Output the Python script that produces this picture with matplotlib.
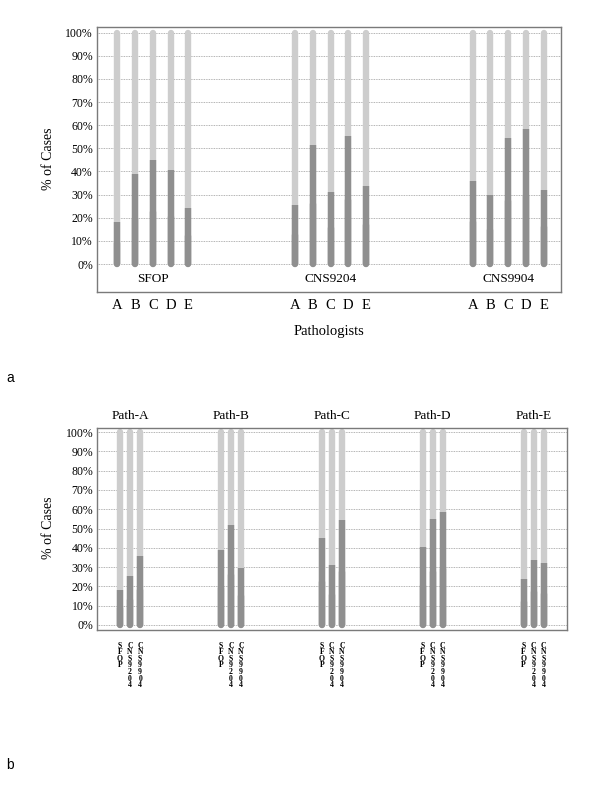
import matplotlib
matplotlib.use('Agg')
import matplotlib.pyplot as plt
import matplotlib.transforms as mtransforms

# values (% of cases, dark lower segment)
pathologists = ['A', 'B', 'C', 'D', 'E']
protocols = ['SFOP', 'CNS9204', 'CNS9904']
sfop = [18.0, 38.8, 45.0, 40.6, 24.1]
cns9204 = [25.5, 51.6, 31.3, 55.2, 33.9]
cns9904 = [35.9, 29.8, 54.5, 58.5, 32.0]
yticks = list(range(0, 101, 10))

DARK = '#8f8f8f'
LIGHT = '#cdcdcd'
SERIF = 'Liberation Serif'
BAR_LW = 4.6


def draw_bar(ax, x, v):
    # light full-height bar, then dark bottom part with flat top
    ax.plot([x, x], [0, 100], color=LIGHT, lw=BAR_LW, solid_capstyle='round', zorder=2)
    ax.plot([x, x], [0, v / 2], color=DARK, lw=BAR_LW, solid_capstyle='round', zorder=3)
    ax.plot([x, x], [0, v], color=DARK, lw=BAR_LW, solid_capstyle='butt', zorder=3)


def style_axes(ax, ylim):
    ax.set_ylim(*ylim)
    ax.set_yticks(yticks)
    ax.set_yticklabels(['%d%%' % t for t in yticks], fontfamily=SERIF, fontsize=8.5)
    ax.tick_params(axis='y', length=0, pad=3)
    for t in yticks:
        ax.axhline(t, color='#9a9a9a', lw=0.6, ls=(0, (1, 1)), zorder=1)
    for s in ax.spines.values():
        s.set_color('#7a7a7a')
        s.set_linewidth(1.0)


fig = plt.figure(figsize=(6.0, 7.95), dpi=100)

# ---- panel a: grouped by protocol ----
ax1 = fig.add_axes([97 / 600, 1 - 292 / 795, (561 - 97) / 600, (292 - 26.7) / 795])
series = [sfop, cns9204, cns9904]
xpos = []
xlabels = []
for g, vals in enumerate(series):
    for i, v in enumerate(vals):
        x = g * 10 + i
        draw_bar(ax1, x, v)
        xpos.append(x)
        xlabels.append(pathologists[i])
    ax1.text(g * 10 + 2, -6.6, protocols[g], ha='center', va='center',
             fontfamily=SERIF, fontsize=9.5)
ax1.set_xlim(-1.15, 24.97)
style_axes(ax1, (-12.1, 102.6))
ax1.set_xticks(xpos)
ax1.set_xticklabels(xlabels, fontfamily=SERIF, fontsize=10.5)
ax1.tick_params(axis='x', length=0, pad=5)
fig.text(329 / 600, 1 - 331 / 795, 'Pathologists', ha='center', va='center',
         fontfamily=SERIF, fontsize=10.5)
fig.text(49 / 600, 1 - 159 / 795, '% of Cases', ha='center', va='center',
         rotation=90, fontfamily=SERIF, fontsize=10)

# ---- panel b: grouped by pathologist ----
ax2 = fig.add_axes([97.3 / 600, 1 - 630 / 795, (567 - 97.3) / 600, (630 - 427.7) / 795])
trans = mtransforms.blended_transform_factory(ax2.transData, ax2.transAxes)
for i, name in enumerate(pathologists):
    for g, vals in enumerate(series):
        x = i * 10 + g
        draw_bar(ax2, x, vals[i])
        # protocol name written vertically, one character per row
        for k, ch in enumerate(protocols[g]):
            off = mtransforms.ScaledTranslation(0, -(15.5 + 6.65 * k) / 100,
                                                fig.dpi_scale_trans)
            ax2.text(x, 0, ch, transform=trans + off, ha='center', va='center',
                     fontfamily=SERIF, fontsize=5.6, fontweight='bold')
    ax2.text(i * 10 + 1, 1.058, 'Path-' + name, transform=trans, ha='center',
             va='center', fontfamily=SERIF, fontsize=9.5)
ax2.set_xlim(-2.25, 44.3)
style_axes(ax2, (-2.6, 102.3))
ax2.set_xticks([])
fig.text(49 / 600, 1 - 528 / 795, '% of Cases', ha='center', va='center',
         rotation=90, fontfamily=SERIF, fontsize=10)

fig.text(10 / 600, 1 - 378 / 795, 'a', ha='center', va='center',
         fontfamily='Liberation Sans', fontsize=10)
fig.text(10 / 600, 1 - 765 / 795, 'b', ha='center', va='center',
         fontfamily='Liberation Sans', fontsize=10)

fig.savefig('out.png', dpi=100)
